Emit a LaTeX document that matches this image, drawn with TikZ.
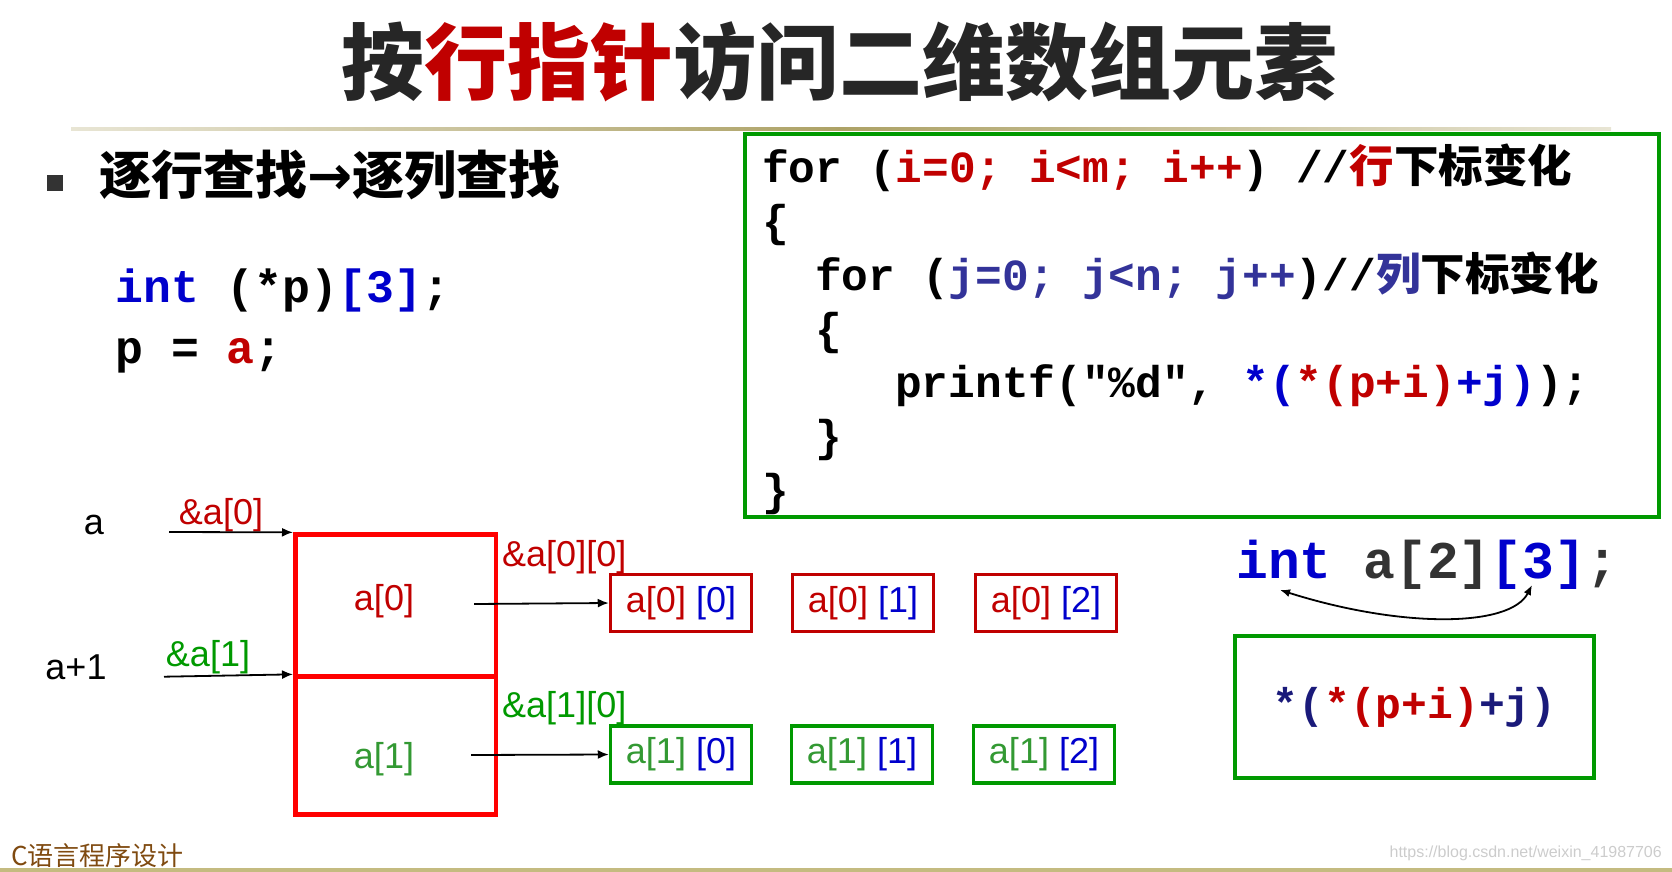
\documentclass[tikz,border=0pt]{standalone}
\usepackage{fontspec}
\setmainfont{Liberation Sans}
\newfontfamily\cjkfont{Noto Sans CJK SC}
\newfontfamily\codefont{Liberation Mono}
\newfontfamily\arrowfont{DejaVu Sans}
\usetikzlibrary{arrows.meta}

\definecolor{titlegray}{HTML}{262626}
\definecolor{rowred}{HTML}{C00000}
\definecolor{cellred}{HTML}{FF0000}
\definecolor{rowgreen}{HTML}{009900}
\definecolor{lightgreen}{HTML}{339933}
\definecolor{colblue}{HTML}{0000CC}
\definecolor{jblue}{HTML}{333399}
\definecolor{darknavy}{HTML}{1A1A7A}
\definecolor{codegray}{HTML}{333333}
\definecolor{footbrown}{HTML}{7F4A10}
\definecolor{sepdark}{HTML}{ADA266}
\definecolor{seplight}{HTML}{E8E5D4}
\definecolor{barolive}{HTML}{C4BB80}

\begin{document}
\begin{tikzpicture}[x=1pt, y=-1pt, every node/.style={inner sep=0pt},
	lab/.style={font=\fontsize{36}{40}\selectfont},
	cell/.style={draw=cellred, line width=4.5pt, minimum width=200.5pt},
	elem/.style={lab, draw, line width=3.5pt, minimum width=141pt, minimum height=57pt},
	codeline/.style={anchor=base west, font=\codefont\bfseries\fontsize{44.5}{50}\selectfont},
	ptr/.style={-{Latex[length=11pt,width=9pt]}, line width=1.8pt}]
			
			\useasboundingbox (0,0) rectangle (1672,872);
			
			\node[font=\cjkfont\bfseries\fontsize{83}{90}\selectfont, text=titlegray] (title) at (839,62) {按{\color{rowred}行指针}访问二维数组元素};
			\shade[left color=seplight, right color=sepdark] (71,128) rectangle (841,131);
			\shade[left color=sepdark, right color=seplight] (840,128) rectangle (1611,131);
			\fill[barolive] (0,867.5) rectangle (1672,872);
			
			\fill[codegray] (47,175) rectangle (63,191);
			\node[anchor=west, font=\cjkfont\bfseries\fontsize{52}{60}\selectfont] (heading) at (99,175) {逐行查找{\arrowfont\bfseries\fontsize{54}{60}\selectfont →}逐列查找};
			
			\node[codeline, font=\codefont\bfseries\fontsize{46.5}{52}\selectfont] (declp) at (115,302) {\textcolor{colblue}{int} (*p)\textcolor{colblue}{[3]};};
			\node[codeline, font=\codefont\bfseries\fontsize{46.5}{52}\selectfont] (assignp) at (115,363) {p = \textcolor{rowred}{a};};
			
			\node[draw=rowgreen, line width=4pt, minimum width=914pt, minimum height=383pt] (loopbox) at (1202,325.5) {};
			\node[codeline] (forI) at (762,182) {for (\textcolor{rowred}{i=0; i<m; i++}) //{\cjkfont\textcolor{rowred}{行}下标变化}};
			\node[codeline] (openI) at (762,236) {\{};
			\node[codeline] (forJ) at (815,290) {for (\textcolor{jblue}{j=0; j<n; j++})//{\cjkfont\textcolor{jblue}{列}下标变化}};
			\node[codeline] (openJ) at (815,344) {\{};
			\node[codeline] (printline) at (895,397) {printf("\%d", \textcolor{colblue}{*(}\textcolor{rowred}{*(p+i)}\textcolor{colblue}{+j)});};
			\node[codeline] (closeJ) at (815,451) {\}};
			\node[codeline] (closeI) at (762,505) {\}};
			
			\node[lab] (ptrA) at (94,525) {a};
			\node[lab] (ptrA1) at (76,667) {a+1};
			\node[lab, text=rowred] (addrA0) at (221,515) {\&a[0]};
			\node[lab, text=rowgreen] (addrA1) at (208,657) {\&a[1]};
			\coordinate (fromA) at (169,532);
			\coordinate (fromA1) at (164,676.7);
			
			\node[cell, minimum height=142pt] (cellA) at (395.5,605.6) {};
			\node[cell, minimum height=138pt] (cellB) at (395.5,745.6) {};
			\node[lab, text=rowred] (rowA) at (384,601) {a[0]};
			\node[lab, text=lightgreen] (rowB) at (384,759) {a[1]};
			
			\node[lab, text=rowred, anchor=west] (addrA00) at (502,557) {\&a[0][0]};
			\node[lab, text=rowgreen, anchor=west] (addrA10) at (502,708) {\&a[1][0]};
			\coordinate (fromRowA) at (474,604);
			\coordinate (fromRowB) at (471,755);
			
			\node[elem, draw=rowred] (e00) at (681,603) {\textcolor{rowred}{a[0]} \textcolor{colblue}{[0]}};
			\node[elem, draw=rowred] (e01) at (863,603) {\textcolor{rowred}{a[0]} \textcolor{colblue}{[1]}};
			\node[elem, draw=rowred] (e02) at (1046,603) {\textcolor{rowred}{a[0]} \textcolor{colblue}{[2]}};
			\node[elem, draw=rowgreen] (e10) at (681,754.5) {\textcolor{lightgreen}{a[1]} \textcolor{colblue}{[0]}};
			\node[elem, draw=rowgreen] (e11) at (862,754.5) {\textcolor{lightgreen}{a[1]} \textcolor{colblue}{[1]}};
			\node[elem, draw=rowgreen] (e12) at (1044,754.5) {\textcolor{lightgreen}{a[1]} \textcolor{colblue}{[2]}};
			
			\draw[ptr] (fromA) -- (cellA.north west);
			\draw[ptr] (fromA1) -- (cellB.north west);
			\draw[ptr] (fromRowA) -- (e00.west);
			\draw[ptr] (fromRowB) -- (e10.west);
			
			\node[codeline, font=\codefont\bfseries\fontsize{53}{60}\selectfont] (decla) at (1236,578) {\textcolor{colblue}{int} \textcolor{codegray}{a[2]}\textcolor{colblue}{[3]}\textcolor{codegray}{;}};
			\coordinate (dimRow) at (1280,590);
			\coordinate (dimCol) at (1532,585);
			\draw[{Latex[length=10pt,width=8pt]}-{Latex[length=10pt,width=8pt]}, line width=1.8pt] (dimRow) .. controls (1400,628) and (1510,628) .. (dimCol);
			
			\node[draw=rowgreen, line width=3.5pt, minimum width=359pt, minimum height=142pt, font=\codefont\bfseries\fontsize{43}{48}\selectfont] (expr) at (1414.5,707) {\textcolor{darknavy}{*(}\textcolor{rowred}{*(p+i)}\textcolor{darknavy}{+j)}};
			
			\node[anchor=west, font=\cjkfont\fontsize{26}{30}\selectfont, text=footbrown] (course) at (11,856) {C语言程序设计};
			\node[anchor=east, font=\fontsize{16}{18}\selectfont, text=black!20] (mark) at (1662,853) {https://blog.csdn.net/weixin\_41987706};
			
			\end{tikzpicture}
\end{document}
